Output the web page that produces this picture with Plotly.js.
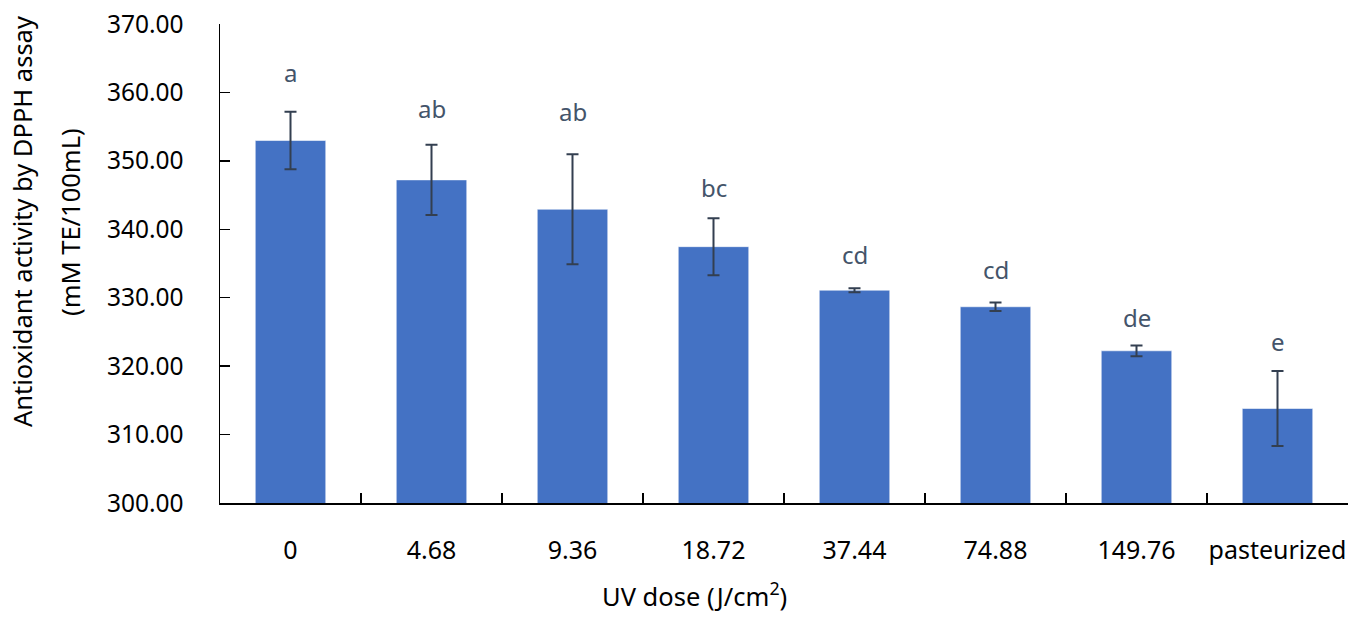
<!DOCTYPE html>
<html>
<head>
<meta charset="utf-8">
<script src="https://cdn.plot.ly/plotly-3.0.1.min.js"></script>
<style>
html,body{margin:0;padding:0;background:#fff;}
#chart{width:1364px;height:623px;}
</style>
</head>
<body>
<div id="chart"></div>
<script>
// Data
var doses = ["0", "4.68", "9.36", "18.72", "37.44", "74.88", "149.76", "pasteurized"];
var activity = [352.97, 347.22, 342.93, 337.46, 331.10, 328.68, 322.24, 313.81];
var sdError = [4.20, 5.14, 8.05, 4.17, 0.30, 0.62, 0.78, 5.49];
var groupLetters = ["a", "ab", "ab", "bc", "cd", "cd", "de", "e"];
var letterHeights = [362.95, 357.65, 357.17, 346.05, 336.3, 334.12, 327.13, 323.63];
var yTicks = [300, 310, 320, 330, 340, 350, 360, 370];

var FONT = "'Noto Sans', 'Open Sans', sans-serif";

var trace = {
  type: "bar",
  x: doses,
  y: activity,
  marker: {color: "#4472C4", line: {color: "rgba(255,255,255,0.55)", width: 1}},
  error_y: {type: "data", array: sdError, visible: true, color: "#333F50", thickness: 2, width: 6},
  hoverinfo: "x+y"
};

var annotations = groupLetters.map(function(t, i) {
  return {
    x: i, y: letterHeights[i], xref: "x", yref: "y",
    text: t, showarrow: false, xanchor: "center", yanchor: "middle",
    font: {family: FONT, size: 24, color: "#44546A"}
  };
});

annotations.push({
  xref: "paper", yref: "paper", x: -0.1755, y: 0.5866,
  text: "Antioxidant activity by DPPH assay", textangle: -90,
  showarrow: false, xanchor: "center", yanchor: "middle",
  font: {family: FONT, size: 25.5, color: "#000"}
});
annotations.push({
  xref: "paper", yref: "paper", x: -0.133, y: 0.5866,
  text: "(mM TE/100mL)", textangle: -90,
  showarrow: false, xanchor: "center", yanchor: "middle",
  font: {family: FONT, size: 25.5, color: "#000"}
});
annotations.push({
  xref: "paper", yref: "paper", x: 0.421, y: -0.191,
  text: "UV dose (J/cm<sup>2</sup>)",
  showarrow: false, xanchor: "center", yanchor: "middle",
  font: {family: FONT, size: 25.5, color: "#000"}
});

var layout = {
  width: 1364, height: 623,
  margin: {l: 220, r: 16, t: 24, b: 120},
  paper_bgcolor: "#fff", plot_bgcolor: "#fff",
  showlegend: false,
  bargap: 0.5,
  font: {family: FONT, size: 24, color: "#000"},
  xaxis: {
    type: "category",
    range: [-0.5, 7.5],
    tickangle: 0,
    showline: true, linecolor: "#000", linewidth: 1.5,
    ticks: "inside", tickson: "boundaries", ticklen: 10, tickwidth: 1.5, tickcolor: "#000",
    showgrid: false, zeroline: false,
    tickfont: {family: FONT, size: 25, color: "#000"},
    ticklabelstandoff: 24
  },
  yaxis: {
    range: [300, 370],
    tickvals: yTicks,
    tickformat: ".2f",
    showline: true, linecolor: "#000", linewidth: 1.5,
    ticks: "inside", ticklen: 10, tickwidth: 1.5, tickcolor: "#000",
    showgrid: false, zeroline: false,
    tickfont: {family: FONT, size: 24.5, color: "#000"},
    ticklabelstandoff: 30
  },
  annotations: annotations
};

Plotly.newPlot("chart", [trace], layout, {displayModeBar: false, staticPlot: true});
</script>
</body>
</html>
